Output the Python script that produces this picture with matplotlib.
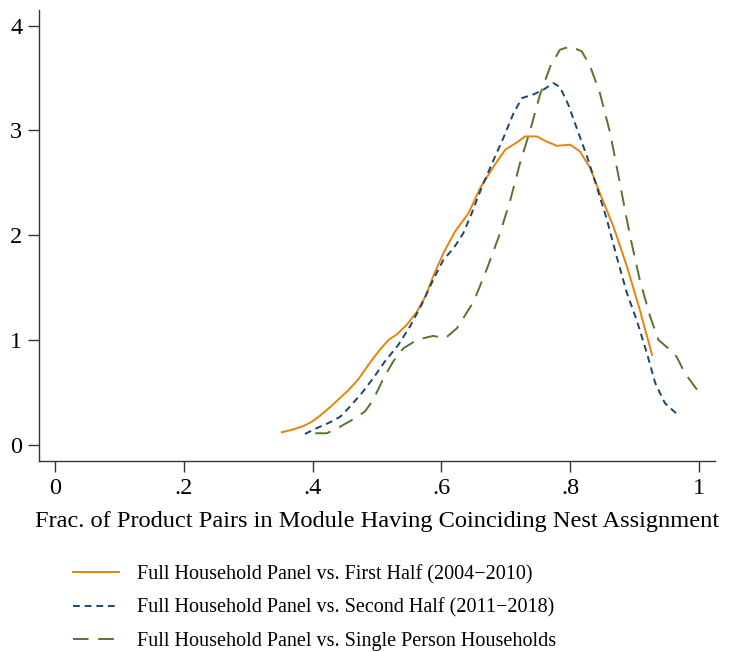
import matplotlib
matplotlib.use("Agg")
import matplotlib.pyplot as plt

plt.rcParams['font.family'] = ['Liberation Serif', 'DejaVu Serif']

# first half (2004-2010)
x_first = [0.352, 0.3675, 0.386, 0.399, 0.411, 0.427, 0.443, 0.455, 0.471, 0.489,
           0.505, 0.518, 0.531, 0.546, 0.562, 0.575, 0.587, 0.603, 0.621, 0.642,
           0.660, 0.681, 0.699, 0.717, 0.730, 0.748, 0.763, 0.779, 0.800, 0.815,
           0.831, 0.846, 0.867, 0.888, 0.908, 0.927]
y_first = [0.121, 0.143, 0.181, 0.222, 0.277, 0.360, 0.451, 0.518, 0.627, 0.785,
           0.913, 1.002, 1.056, 1.145, 1.272, 1.415, 1.606, 1.829, 2.035, 2.210,
           2.449, 2.656, 2.815, 2.885, 2.942, 2.942, 2.894, 2.853, 2.863, 2.799,
           2.640, 2.402, 2.083, 1.702, 1.288, 0.859]

# second half (2011-2018)
x_second = [0.388, 0.406, 0.427, 0.443, 0.458, 0.476, 0.494, 0.512, 0.533, 0.551,
            0.569, 0.587, 0.603, 0.619, 0.634, 0.647, 0.663, 0.681, 0.696, 0.712,
            0.725, 0.743, 0.758, 0.774, 0.784, 0.797, 0.810, 0.826, 0.841, 0.857,
            0.872, 0.888, 0.903, 0.919, 0.932, 0.947, 0.969]
y_second = [0.105, 0.159, 0.216, 0.270, 0.366, 0.493, 0.636, 0.795, 0.954, 1.129,
            1.336, 1.574, 1.765, 1.877, 2.020, 2.210, 2.465, 2.719, 2.926, 3.165,
            3.308, 3.343, 3.387, 3.451, 3.413, 3.244, 3.022, 2.751, 2.465, 2.147,
            1.797, 1.448, 1.193, 0.875, 0.589, 0.398, 0.277]

# single person households
x_single = [0.404, 0.422, 0.443, 0.463, 0.481, 0.494, 0.510, 0.525, 0.541, 0.562,
            0.587, 0.606, 0.624, 0.650, 0.670, 0.691, 0.707, 0.722, 0.738, 0.753,
            0.769, 0.784, 0.800, 0.818, 0.831, 0.846, 0.862, 0.877, 0.893, 0.908,
            0.924, 0.937, 0.952, 0.965, 0.978, 0.999]
y_single = [0.111, 0.111, 0.175, 0.245, 0.318, 0.429, 0.636, 0.795, 0.922, 1.002,
            1.040, 1.018, 1.113, 1.367, 1.670, 2.020, 2.338, 2.688, 3.006, 3.340,
            3.610, 3.769, 3.801, 3.753, 3.610, 3.356, 2.974, 2.497, 1.988, 1.574,
            1.224, 1.002, 0.922, 0.843, 0.684, 0.509]

labels = ["Full Household Panel vs. First Half (2004\u22122010)",
          "Full Household Panel vs. Second Half (2011\u22122018)",
          "Full Household Panel vs. Single Person Households"]
xticks = [0, 0.2, 0.4, 0.6, 0.8, 1.0]
xtick_labels = ["0", ".2", ".4", ".6", ".8", "1"]
yticks = [0, 1, 2, 3, 4]

fig = plt.figure(figsize=(7.29, 6.52), dpi=100)
ax = fig.add_axes([0.0535, 0.293, 0.9275, 0.692])

ax.plot(x_first, y_first, color='#e8820c', lw=1.4, label=labels[0])
ax.plot(x_second, y_second, color='#1a476f', lw=1.4, dashes=(3.5, 2.5), label=labels[1])
ax.plot(x_single, y_single, color='#55752f', lw=1.4, dashes=(8, 5), label=labels[2])

ax.set_xlim(-0.025, 1.025)
ax.set_ylim(-0.153, 4.15)
ax.set_xticks(xticks)
ax.set_xticklabels(xtick_labels)
ax.set_yticks(yticks)
for s in ['top', 'right']:
    ax.spines[s].set_visible(False)
for s in ['left', 'bottom']:
    ax.spines[s].set_color('#333333')
    ax.spines[s].set_linewidth(1.0)
ax.tick_params(direction='out', length=8, width=1, color='#333333', labelsize=17.5, pad=4)
ax.set_xlabel("Frac. of Product Pairs in Module Having Coinciding Nest Assignment",
              fontsize=17.6, labelpad=9)

ax.legend(loc='upper left', bbox_to_anchor=(0.089, 0.146), bbox_transform=fig.transFigure,
          frameon=False, fontsize=14.5, handlelength=2.3, handletextpad=0.9,
          labelspacing=0.7, borderaxespad=0)

fig.savefig('out.png', dpi=100)
